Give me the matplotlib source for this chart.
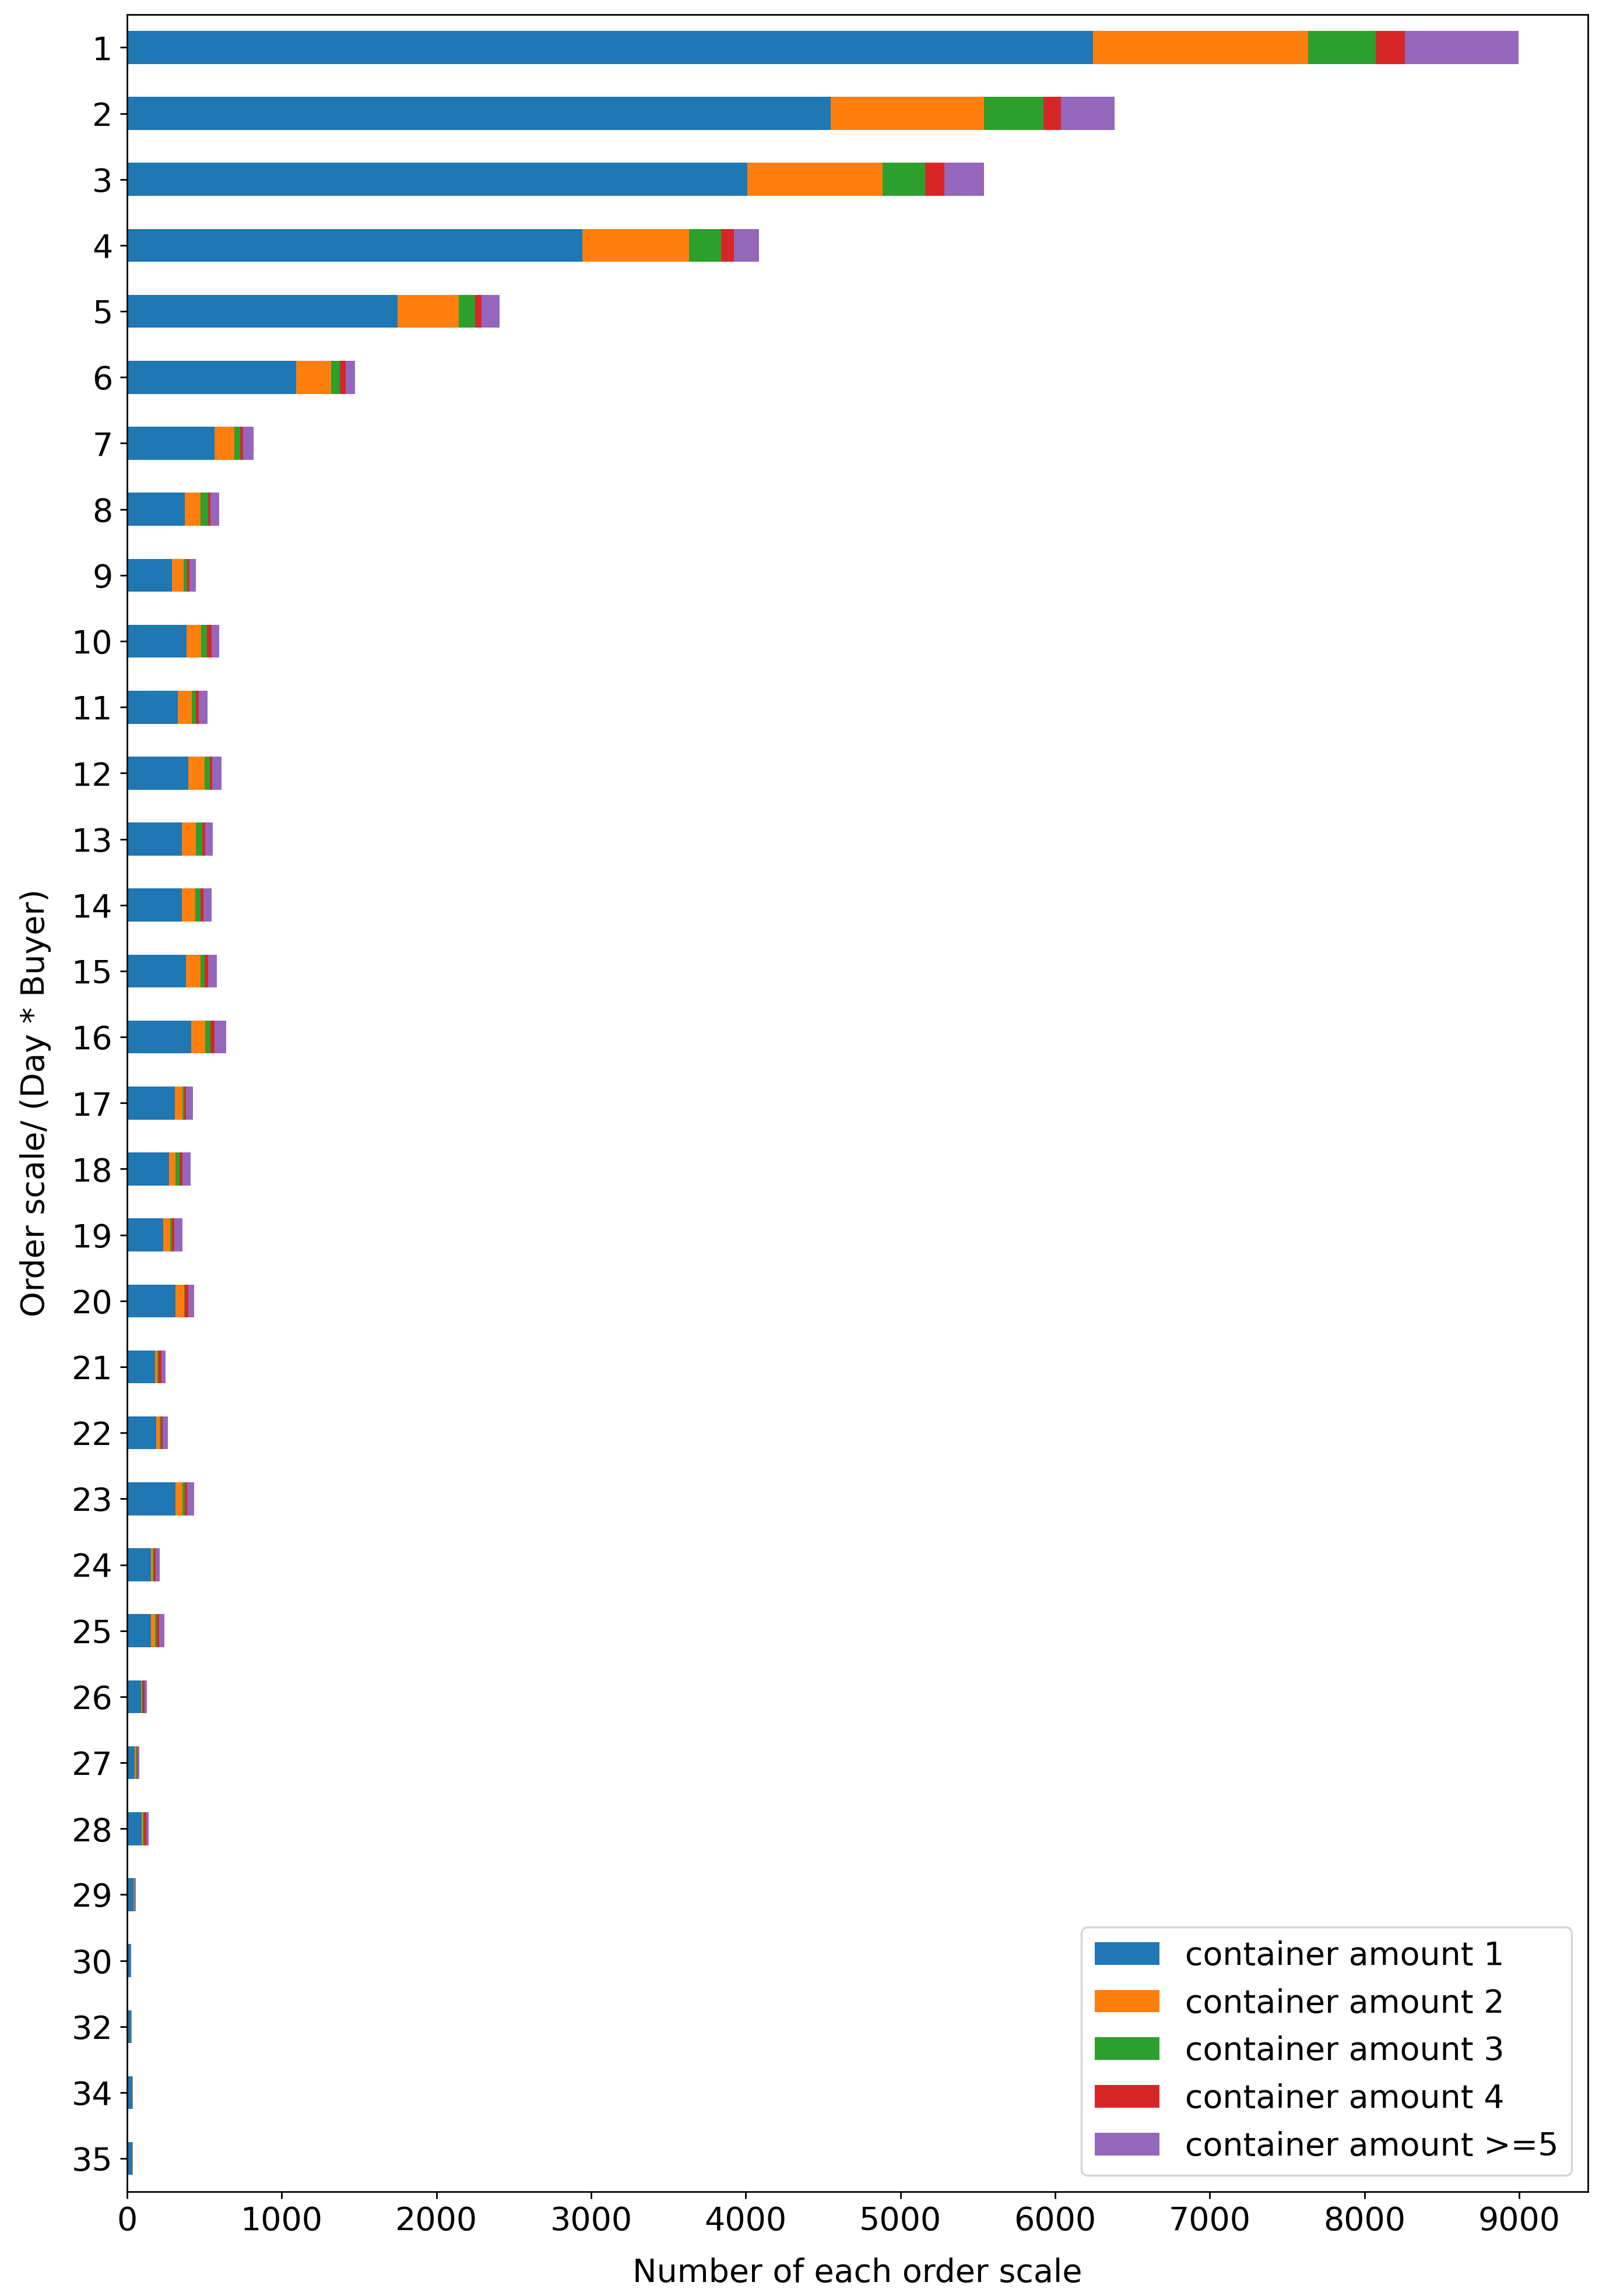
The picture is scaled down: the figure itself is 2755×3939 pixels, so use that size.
import matplotlib
matplotlib.use('Agg')
import matplotlib.pyplot as plt
from matplotlib.ticker import MultipleLocator
import pandas as pd

# order scale categories (note: 31 and 33 are missing in the data)
order_scale = list(range(1, 31)) + [32, 34, 35]

# counts per container amount
amount_1 = [6245, 4550, 4010, 2945, 1750, 1095, 565, 375, 290, 385, 330, 395, 355, 355, 380, 415,
            310, 270, 235, 315, 180, 190, 315, 155, 155, 90, 50, 95, 40, 22, 28, 35, 35]
amount_2 = [1390, 990, 875, 690, 395, 225, 130, 100, 75, 95, 90, 105, 90, 85, 95, 90,
            50, 45, 45, 55, 15, 20, 45, 12, 25, 5, 8, 8, 5, 2, 2, 2, 2]
amount_3 = [440, 385, 275, 205, 105, 55, 35, 50, 25, 35, 25, 35, 40, 35, 25, 35,
            10, 25, 12, 5, 8, 8, 15, 8, 12, 8, 5, 8, 3, 0, 0, 0, 0]
amount_4 = [185, 115, 125, 85, 40, 40, 20, 15, 15, 30, 20, 15, 20, 20, 25, 25,
            10, 20, 12, 20, 20, 12, 15, 10, 15, 12, 7, 15, 3, 0, 0, 0, 0]
amount_5 = [735, 345, 255, 160, 120, 60, 70, 55, 40, 50, 55, 60, 50, 50, 55, 75,
            45, 50, 55, 40, 25, 35, 45, 25, 35, 15, 10, 15, 4, 1, 0, 0, 0]

legend_labels = ['container amount 1', 'container amount 2', 'container amount 3',
                 'container amount 4', 'container amount >=5']

df = pd.DataFrame({legend_labels[0]: amount_1,
                   legend_labels[1]: amount_2,
                   legend_labels[2]: amount_3,
                   legend_labels[3]: amount_4,
                   legend_labels[4]: amount_5}, index=order_scale)

plt.rcParams['font.size'] = 16

fig = plt.figure(figsize=(11.02, 15.756), dpi=250)
ax = fig.add_axes([0.0791, 0.0455, 0.9096, 0.9482])

df.plot(kind='barh', stacked=True, ax=ax)  # stacked horizontal bars, one row per order scale
ax.invert_yaxis()  # scale 1 on top
ax.xaxis.set_major_locator(MultipleLocator(1000))

ax.set_xlabel('Number of each order scale', labelpad=10)
ax.set_ylabel('Order scale/ (Day * Buyer)', labelpad=10)
ax.legend(loc='lower right')

fig.savefig('out.png', dpi=250)
